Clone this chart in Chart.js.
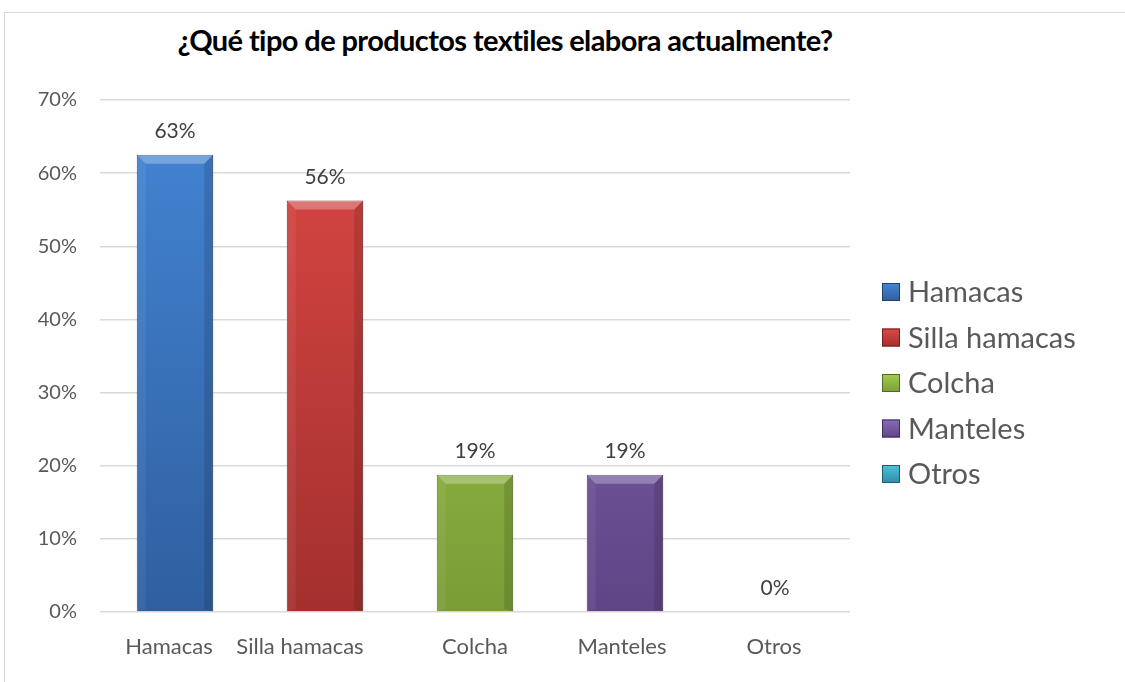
<!DOCTYPE html>
<html>
<head>
<meta charset="utf-8">
<script src="https://cdn.jsdelivr.net/npm/chart.js@4/dist/chart.umd.min.js"></script>
<style>
  html, body { margin: 0; padding: 0; background: #fff; }
  #wrap { position: relative; width: 1125px; height: 682px; overflow: hidden; }
  #frame { position: absolute; left: 4px; top: 12px; right: -10px; bottom: -10px;
           border-top: 1px solid #d9d9d9; border-left: 1px solid #d9d9d9; }
  #title { position: absolute; left: 0; width: 1010px; top: 22px; text-align: center;
           font: bold 29px Lato, "Open Sans", sans-serif; letter-spacing: -0.6px; color: #000; }
  canvas { position: absolute; left: 0; top: 0; }
</style>
</head>
<body>
<div id="wrap">
  <div id="frame"></div>
  <div id="title">¿Qué tipo de productos textiles elabora actualmente?</div>
  <canvas id="chart" width="1125" height="682"></canvas>
</div>
<script>
// ---- data ----
const categories = ['Hamacas', 'Silla hamacas', 'Colcha', 'Manteles', 'Otros'];
const values = [62.5, 56.25, 18.75, 18.75, 0];
const yTicks = [0, 10, 20, 30, 40, 50, 60, 70];

// light / dark pairs for each bar
const topColors = ['#4486d6', '#dc4845', '#a4ce50', '#8a6cbb', '#4fc3dc'];
const bottomColors = ['#2f5f9f', '#a3302e', '#7a9d36', '#5f4586', '#2f8ca4'];
const edgeColors = ['#1f3f6b', '#6e1f1d', '#4f6a22', '#3e2c5a', '#1f5d6e'];

const FONT = 'Lato, "Open Sans", sans-serif';
// the first two category labels sit a little left of their bars (crowding)
const labelShift = [-6, -25, 0, -3, -1];

function barFill(context) {
  const chart = context.chart;
  const area = chart.chartArea;
  const i = context.dataIndex;
  if (!area) return topColors[i];
  const g = chart.ctx.createLinearGradient(0, area.top, 0, area.bottom);
  g.addColorStop(0, topColors[i]);
  g.addColorStop(1, bottomColors[i]);
  return g;
}

// bevel highlight on top and edges of each bar
const bevelPlugin = {
  id: 'bevel',
  afterDatasetsDraw(chart) {
    const ctx = chart.ctx;
    const meta = chart.getDatasetMeta(0);
    meta.data.forEach((bar, i) => {
      const h = bar.base - bar.y;
      if (h < 2) return;
      const l = bar.x - bar.width / 2, r = bar.x + bar.width / 2;
      const t = bar.y, b = bar.base;
      const d = Math.min(9, h / 2);
      ctx.save();
      ctx.fillStyle = 'rgba(255,255,255,0.28)';
      ctx.beginPath();
      ctx.moveTo(l, t); ctx.lineTo(r, t); ctx.lineTo(r - d, t + d); ctx.lineTo(l + d, t + d);
      ctx.closePath(); ctx.fill();
      ctx.fillStyle = 'rgba(0,0,0,0.12)';
      ctx.beginPath();
      ctx.moveTo(r, t); ctx.lineTo(r, b); ctx.lineTo(r - d, b - 2); ctx.lineTo(r - d, t + d);
      ctx.closePath(); ctx.fill();
      ctx.fillStyle = 'rgba(255,255,255,0.06)';
      ctx.beginPath();
      ctx.moveTo(l, t); ctx.lineTo(l + d, t + d); ctx.lineTo(l + d, b - 2); ctx.lineTo(l, b);
      ctx.closePath(); ctx.fill();
      ctx.restore();
    });
  }
};

// value labels above bars + category labels below
const barLabels = {
  id: 'barLabels',
  afterDatasetsDraw(chart) {
    const ctx = chart.ctx;
    const meta = chart.getDatasetMeta(0);
    const xScale = chart.scales.x;
    ctx.save();
    ctx.textAlign = 'center';
    ctx.textBaseline = 'alphabetic';
    meta.data.forEach((bar, i) => {
      ctx.font = '21px ' + FONT;
      ctx.fillStyle = '#404040';
      ctx.fillText(Math.round(values[i]) + '%', bar.x, bar.y - 17);
      ctx.font = '22px ' + FONT;
      ctx.fillStyle = '#595959';
      ctx.textBaseline = 'middle';
      ctx.fillText(categories[i], xScale.getPixelForValue(i) + labelShift[i], xScale.top + 35);
      ctx.textBaseline = 'alphabetic';
    });
    ctx.restore();
  }
};

// legend on the right
const sideLegend = {
  id: 'sideLegend',
  afterDraw(chart) {
    const ctx = chart.ctx;
    const x = chart.chartArea.right + 32;
    const y0 = 292;
    const step = 45.5;
    ctx.save();
    ctx.font = '29px ' + FONT;
    ctx.textBaseline = 'middle';
    categories.forEach((c, i) => {
      const y = y0 + i * step;
      const g = ctx.createLinearGradient(0, y - 9, 0, y + 9);
      g.addColorStop(0, topColors[i]);
      g.addColorStop(1, bottomColors[i]);
      ctx.fillStyle = g;
      ctx.fillRect(x, y - 9, 18, 18);
      ctx.strokeStyle = edgeColors[i];
      ctx.lineWidth = 1;
      ctx.strokeRect(x + 0.5, y - 8.5, 17, 17);
      ctx.fillStyle = '#595959';
      ctx.fillText(c, x + 26, y + 1);
    });
    ctx.restore();
  }
};

new Chart(document.getElementById('chart'), {
  type: 'bar',
  data: {
    labels: categories,
    datasets: [{
      data: values,
      backgroundColor: barFill,
      borderColor: edgeColors,
      borderWidth: 1,
      barPercentage: 0.51,
      categoryPercentage: 1
    }]
  },
  options: {
    responsive: false,
    animation: false,
    layout: { padding: { top: 100, right: 275, bottom: 0, left: 0 } },
    plugins: {
      legend: { display: false },
      tooltip: { enabled: false }
    },
    scales: {
      x: {
        grid: { display: false, drawTicks: false },
        border: { display: false },
        ticks: { display: false },
        afterFit(scale) { scale.height = 70; }
      },
      y: {
        min: 0,
        max: 70,
        afterBuildTicks(scale) { scale.ticks = yTicks.map(v => ({ value: v })); },
        grid: { color: '#d9d9d9', lineWidth: 1.5, drawTicks: false },
        border: { display: false },
        ticks: {
          color: '#595959',
          font: { size: 20, family: FONT },
          padding: 23,
          callback: v => v + '%'
        },
        afterFit(scale) { scale.width = 100; }
      }
    }
  },
  plugins: [bevelPlugin, barLabels, sideLegend]
});
</script>
</body>
</html>
